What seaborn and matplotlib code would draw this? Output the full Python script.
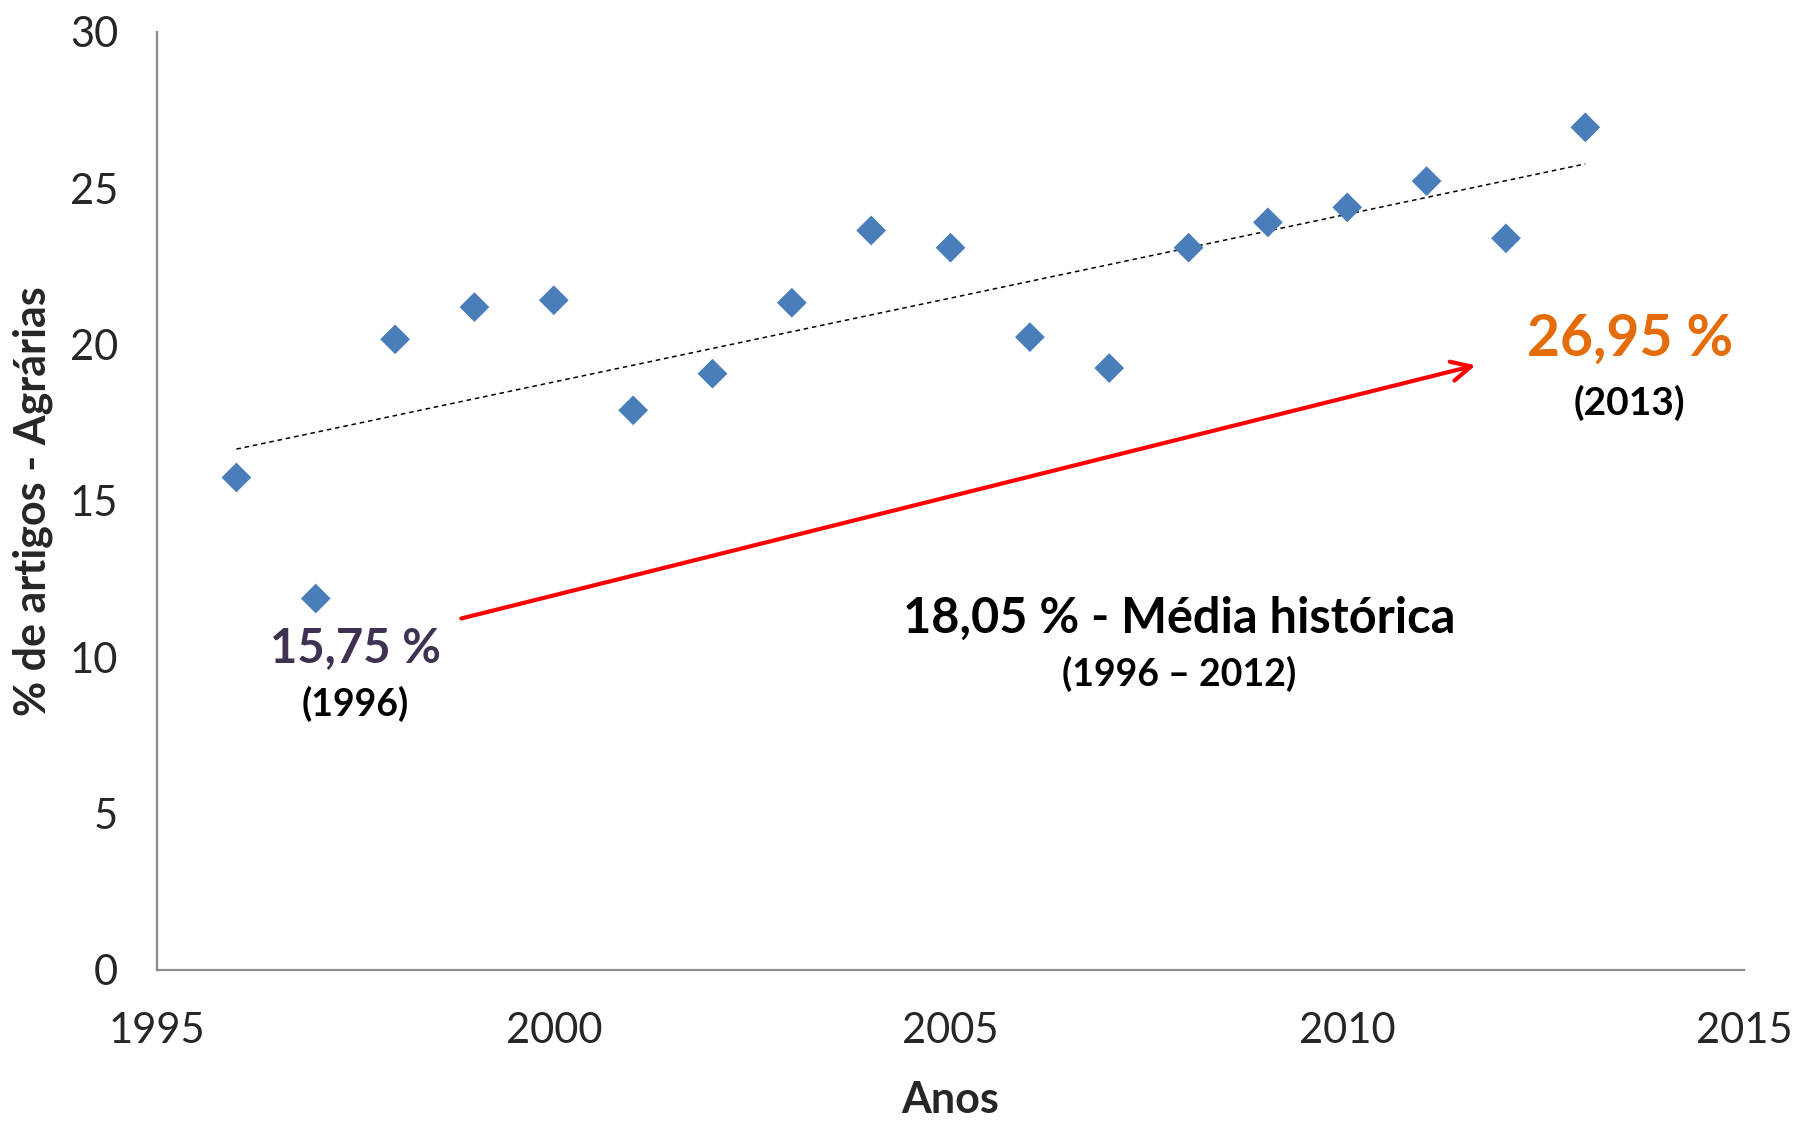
import numpy as np
import pandas as pd
import matplotlib.pyplot as plt
import seaborn as sns

# valores
anos = [1996, 1997, 1998, 1999, 2000, 2001, 2002, 2003, 2004,
        2005, 2006, 2007, 2008, 2009, 2010, 2011, 2012, 2013]
pct_agrarias = [15.75, 11.88, 20.17, 21.20, 21.42, 17.90, 19.07, 21.34, 23.65,
                23.10, 20.24, 19.25, 23.10, 23.91, 24.39, 25.23, 23.40, 26.95]
x_ticks = [1995, 2000, 2005, 2010, 2015]
y_ticks = [0, 5, 10, 15, 20, 25, 30]


def main():
    sns.set_style('white')
    plt.rcParams['font.family'] = ['Lato', 'DejaVu Sans']

    df = pd.DataFrame({'Anos': anos, 'Pct': pct_agrarias})

    fig = plt.figure(figsize=(17.97, 11.25), dpi=100)
    ax = fig.add_axes([0.0874, 0.1378, 0.8831, 0.8338])

    sns.regplot(data=df, x='Anos', y='Pct', scatter=False, ci=None, ax=ax,
                line_kws={'color': 'black', 'lw': 1.1, 'ls': (0, (3, 2.5))})
    sns.scatterplot(data=df, x='Anos', y='Pct', marker='D', s=230, color='#4a7ebb',
                    edgecolor='none', ax=ax, zorder=3)

    ax.set_xlim(1995, 2015)
    ax.set_ylim(0, 30)
    ax.set_xticks(x_ticks)
    ax.set_yticks(y_ticks)
    ax.tick_params(axis='both', length=0, labelsize=30)
    ax.tick_params(axis='x', pad=30)
    ax.tick_params(axis='y', pad=28)

    for side in ['top', 'right']:
        ax.spines[side].set_visible(False)
    for side in ['left', 'bottom']:
        ax.spines[side].set_color('#8c8c8c')
        ax.spines[side].set_linewidth(1.6)

    ax.set_xlabel('Anos', fontsize=31, fontweight='bold', labelpad=22)
    ax.set_ylabel('% de artigos - Agrárias', fontsize=31, fontweight='bold', labelpad=12)

    # seta vermelha
    ax.annotate('', xy=(2011.65, 19.36), xytext=(1998.8, 11.22),
                arrowprops=dict(arrowstyle='->', color='red', lw=3, mutation_scale=35))

    ax.text(1997.5, 10.3, '15,75 %', color='#3f3151', fontsize=34, fontweight='bold',
            ha='center', va='center')
    ax.text(1997.5, 8.5, '(1996)', color='black', fontsize=27, fontweight='bold',
            ha='center', va='center')
    ax.text(2007.88, 11.26, '18,05 % - Média histórica', color='black', fontsize=35,
            fontweight='bold', ha='center', va='center')
    ax.text(2007.88, 9.46, '(1996 – 2012)', color='black', fontsize=27,
            fontweight='bold', ha='center', va='center')
    ax.text(2013.56, 20.17, '26,95 %', color='#e46c0a', fontsize=41, fontweight='bold',
            ha='center', va='center')
    ax.text(2013.56, 18.15, '(2013)', color='black', fontsize=28, fontweight='bold',
            ha='center', va='center')

    fig.savefig('out.png', dpi=100)


if __name__ == '__main__':
    main()
